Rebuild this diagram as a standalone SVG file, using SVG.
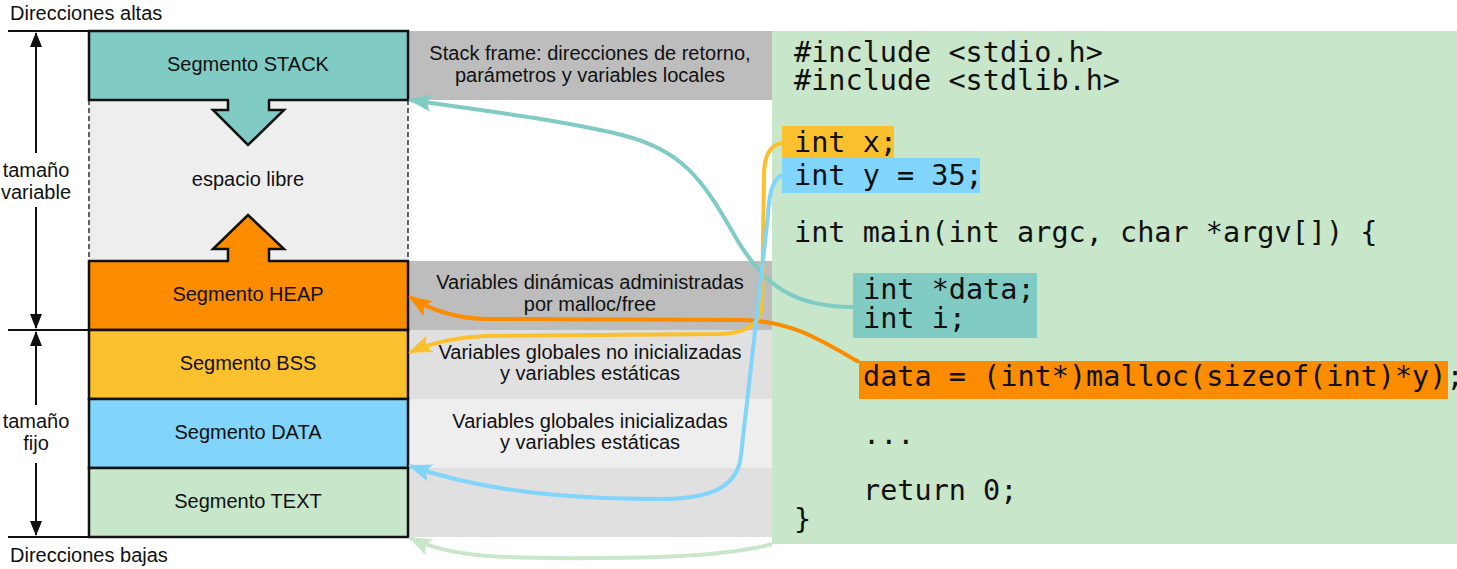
<svg xmlns="http://www.w3.org/2000/svg" width="1457" height="569" viewBox="0 0 1457 569">
<style>
.lbl{font-family:"Liberation Sans",Arial,sans-serif;font-size:20px;fill:#111;text-anchor:middle}
.side{font-family:"Liberation Sans",Arial,sans-serif;font-size:20px;fill:#111}
.code{font-family:"DejaVu Sans Mono",monospace;font-size:28.5px;fill:#111;white-space:pre}
.seg{stroke:#111;stroke-width:2.5}
.ol{fill:none;stroke:#111;stroke-width:2.5;stroke-linejoin:miter}
.con{fill:none;stroke-width:4}
.dim{stroke:#111;stroke-width:2;fill:none}
</style>
<defs>
<marker id="mTeal" markerUnits="userSpaceOnUse" viewBox="-24 -10 28 20" refX="0" refY="0" markerWidth="28" markerHeight="20" orient="auto" overflow="visible"><path d="M2,0 L-22,-9 Q-14,0 -22,9 Z" fill="#80cbc4"/></marker>
<marker id="mOrange" markerUnits="userSpaceOnUse" viewBox="-24 -10 28 20" refX="0" refY="0" markerWidth="28" markerHeight="20" orient="auto" overflow="visible"><path d="M2,0 L-22,-9 Q-14,0 -22,9 Z" fill="#fb8c00"/></marker>
<marker id="mYellow" markerUnits="userSpaceOnUse" viewBox="-24 -10 28 20" refX="0" refY="0" markerWidth="28" markerHeight="20" orient="auto" overflow="visible"><path d="M2,0 L-22,-9 Q-14,0 -22,9 Z" fill="#fbc02d"/></marker>
<marker id="mBlue" markerUnits="userSpaceOnUse" viewBox="-24 -10 28 20" refX="0" refY="0" markerWidth="28" markerHeight="20" orient="auto" overflow="visible"><path d="M2,0 L-22,-9 Q-14,0 -22,9 Z" fill="#81d4fa"/></marker>
<marker id="mGreen" markerUnits="userSpaceOnUse" viewBox="-24 -10 28 20" refX="0" refY="0" markerWidth="28" markerHeight="20" orient="auto" overflow="visible"><path d="M2,0 L-22,-9 Q-14,0 -22,9 Z" fill="#c8e6c9"/></marker>
<marker id="mDim" markerUnits="userSpaceOnUse" viewBox="-16 -7 18 14" refX="0" refY="0" markerWidth="18" markerHeight="14" orient="auto" overflow="visible"><path d="M1,0 L-14,-6 L-14,6 Z" fill="#111"/></marker>
</defs>
<rect width="1457" height="569" fill="#fff"/>

<!-- description rows -->
<g id="descriptions">
<rect x="408" y="31" width="364" height="69" fill="#bdbdbd"/>
<rect x="408" y="261" width="364" height="69" fill="#bdbdbd"/>
<rect x="408" y="330" width="364" height="69" fill="#e0e0e0"/>
<rect x="408" y="399" width="364" height="69" fill="#eeeeee"/>
<rect x="408" y="468" width="364" height="69" fill="#e0e0e0"/>
<text class="lbl" x="590" y="60">Stack frame: direcciones de retorno,</text>
<text class="lbl" x="590" y="82">parámetros y variables locales</text>
<text class="lbl" x="590" y="289">Variables dinámicas administradas</text>
<text class="lbl" x="590" y="311">por malloc/free</text>
<text class="lbl" x="590" y="359">Variables globales no inicializadas</text>
<text class="lbl" x="590" y="380">y variables estáticas</text>
<text class="lbl" x="590" y="428">Variables globales inicializadas</text>
<text class="lbl" x="590" y="449">y variables estáticas</text>
</g>

<!-- code panel -->
<g id="code">
<rect x="772" y="31" width="685" height="513" fill="#c8e6c9"/>
<rect x="782" y="126" width="112" height="32" fill="#fbc02d"/>
<rect x="782" y="158" width="198" height="35" fill="#81d4fa"/>
<rect x="853" y="273" width="184" height="65" fill="#80cbc4"/>
<rect x="859" y="361" width="589" height="38" fill="#fb8c00"/>
<text class="code" x="794" y="62">#include &lt;stdio.h&gt;</text>
<text class="code" x="794" y="90">#include &lt;stdlib.h&gt;</text>
<text class="code" x="794" y="152">int x;</text>
<text class="code" x="794" y="185">int y = 35;</text>
<text class="code" x="794" y="242">int main(int argc, char *argv[]) {</text>
<text class="code" x="863" y="299">int *data;</text>
<text class="code" x="863" y="328">int i;</text>
<text class="code" x="863" y="386">data = (int*)malloc(sizeof(int)*y);</text>
<text class="code" x="863" y="444">...</text>
<text class="code" x="863" y="500">return 0;</text>
<text class="code" x="794" y="529">}</text>
</g>

<!-- memory segments -->
<g id="free">
<rect x="89" y="100" width="319" height="161" fill="#eeeeee"/>
<line x1="89" y1="100" x2="89" y2="261" stroke="#111" stroke-width="1.3" stroke-dasharray="5,3"/>
<line x1="408" y1="100" x2="408" y2="261" stroke="#111" stroke-width="1.3" stroke-dasharray="5,3"/>
<text class="lbl" x="248" y="186">espacio libre</text>
</g>
<g id="stack">
<rect class="seg" x="89" y="31" width="319" height="69" fill="#80cbc4"/>
<polygon points="229,98 229,110 213,110 248,145 284,110 268,110 268,98" fill="#80cbc4"/>
<polyline class="ol" points="228,100 228,110 213,110 248,145 284,110 269,110 269,100"/>
<text class="lbl" x="248" y="71">Segmento STACK</text>
</g>
<g id="heap">
<rect class="seg" x="89" y="261" width="319" height="69" fill="#fb8c00"/>
<polygon points="229,263 229,249 213,249 248,215 284,249 268,249 268,263" fill="#fb8c00"/>
<polyline class="ol" points="228,261 228,249 213,249 248,215 284,249 269,249 269,261"/>
<text class="lbl" x="248" y="301">Segmento HEAP</text>
</g>
<g id="bss">
<rect class="seg" x="89" y="330" width="319" height="69" fill="#fbc02d"/>
<text class="lbl" x="248" y="370">Segmento BSS</text>
</g>
<g id="data">
<rect class="seg" x="89" y="399" width="319" height="69" fill="#81d4fa"/>
<text class="lbl" x="248" y="439">Segmento DATA</text>
</g>
<g id="textseg">
<rect class="seg" x="89" y="468" width="319" height="69" fill="#c8e6c9"/>
<text class="lbl" x="248" y="508">Segmento TEXT</text>
</g>

<!-- left scale -->
<g id="scale">
<line x1="8" y1="31" x2="90" y2="31" stroke="#111" stroke-width="2"/>
<line x1="8" y1="330" x2="90" y2="330" stroke="#111" stroke-width="2"/>
<line x1="8" y1="537" x2="90" y2="537" stroke="#111" stroke-width="2"/>
<text class="side" x="10" y="20">Direcciones altas</text>
<text class="side" x="10" y="562">Direcciones bajas</text>
<text class="lbl" x="36" y="177">tamaño</text>
<text class="lbl" x="36" y="199">variable</text>
<text class="lbl" x="36" y="428">tamaño</text>
<text class="lbl" x="36" y="450">fijo</text>
<line class="dim" x1="36" y1="153" x2="36" y2="33" marker-end="url(#mDim)"/>
<line class="dim" x1="36" y1="207" x2="36" y2="328" marker-end="url(#mDim)"/>
<line class="dim" x1="36" y1="405" x2="36" y2="332" marker-end="url(#mDim)"/>
<line class="dim" x1="36" y1="463" x2="36" y2="535" marker-end="url(#mDim)"/>
</g>

<!-- connectors -->
<g id="connectors">
<path class="con" stroke="#80cbc4" marker-end="url(#mTeal)" d="M853,307 C790,307 762,282 736,238 C702,178 682,150 622,135 C560,120 480,110 410,100"/>
<path class="con" stroke="#fb8c00" marker-end="url(#mOrange)" d="M859,362 C820,340 792,321 742,320 L485,319 C455,318 432,311 410,297"/>
<path class="con" stroke="#fbc02d" marker-end="url(#mYellow)" d="M782,143 C768,145 764,160 764,176 L762,305 C761,325 746,333 720,334 L485,336 C455,337 432,343 410,352"/>
<path class="con" stroke="#81d4fa" marker-end="url(#mBlue)" d="M783,175 C772,178 769,195 768,215 L758,305 L741,455 C738,490 705,499 660,499 C560,499 480,490 410,466"/>
<path class="con" stroke="#c8e6c9" marker-end="url(#mGreen)" d="M772,544 C740,553 690,558 600,558 C500,559 450,557 410,538"/>
</g>
</svg>
